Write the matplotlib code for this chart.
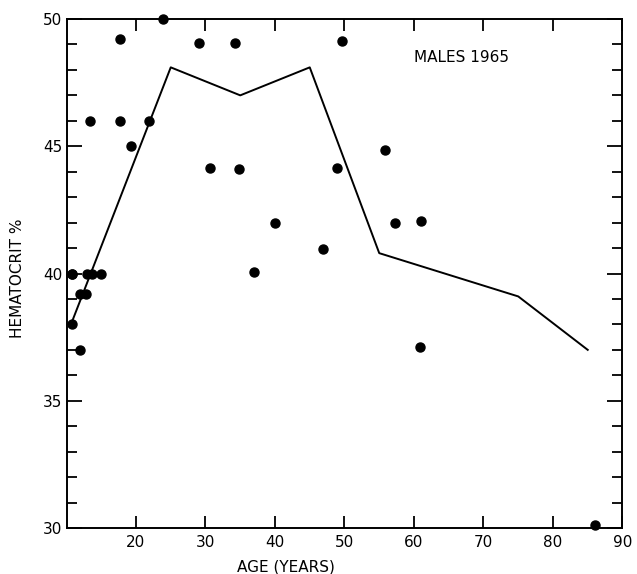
import numpy as np
import matplotlib.pyplot as plt

# observed hematocrit values (males, 1965)
age_pts = [10.8, 12.9, 13.6, 15.0, 11.9, 12.8, 10.8, 11.9,
           13.4, 17.7, 17.7, 19.3, 21.9, 23.9, 29.1, 34.3,
           30.6, 34.8, 40.0, 37.0, 49.6, 55.9, 48.9, 57.2,
           61.0, 46.9, 60.8, 86.0, 10.8]
hct_pts = [40.0, 40.0, 40.0, 40.0, 39.2, 39.2, 38.0, 37.0,
           46.0, 49.2, 46.0, 45.0, 46.0, 50.0, 49.05, 49.05,
           44.15, 44.1, 42.0, 40.05, 49.15, 44.85, 44.15, 42.0,
           42.05, 40.95, 37.1, 30.1, 40.0]

# mean curve
age_line = [10.5, 25, 35, 45, 55, 75, 85]
hct_line = [37.9, 48.1, 47.0, 48.1, 40.8, 39.1, 37.0]

x_ticks = [20, 30, 40, 50, 60, 70, 80, 90]
y_ticks = [30, 35, 40, 45, 50]


def make_plot(file_name):
    fig = plt.figure(figsize=(6.37, 5.74), dpi=100)
    ax = fig.add_axes([0.1044, 0.0801, 0.8728, 0.8868])

    ax.plot(age_line, hct_line, color='black', lw=1.4)
    ax.plot(age_pts, hct_pts, 'o', color='black', ms=6.5, clip_on=False)

    ax.set_xlim(10, 90)
    ax.set_ylim(30, 50)
    ax.set_xticks(x_ticks)
    ax.set_yticks(y_ticks)
    ax.set_yticks(np.arange(30, 51, 1), minor=True)

    ax.tick_params(axis='x', which='major', direction='in', length=8.5,
                   width=1.3, labelsize=11, top=True, pad=5)
    ax.tick_params(axis='y', which='major', direction='in', length=11,
                   width=1.3, labelsize=11, right=True, pad=3)
    ax.tick_params(axis='y', which='minor', direction='in', length=7,
                   width=1.3, right=True, left=True)
    for s in ax.spines.values():
        s.set_linewidth(1.4)

    ax.set_xlabel('AGE (YEARS)', fontsize=11)
    ax.xaxis.set_label_coords(0.395, -0.062)
    ax.set_ylabel('HEMATOCRIT %', fontsize=11)
    ax.yaxis.set_label_coords(-0.075, 0.49)

    ax.text(60, 48.5, 'MALES 1965', fontsize=11, va='center', ha='left')

    fig.savefig(file_name, dpi=100)


if __name__ == '__main__':
    make_plot('out.png')
